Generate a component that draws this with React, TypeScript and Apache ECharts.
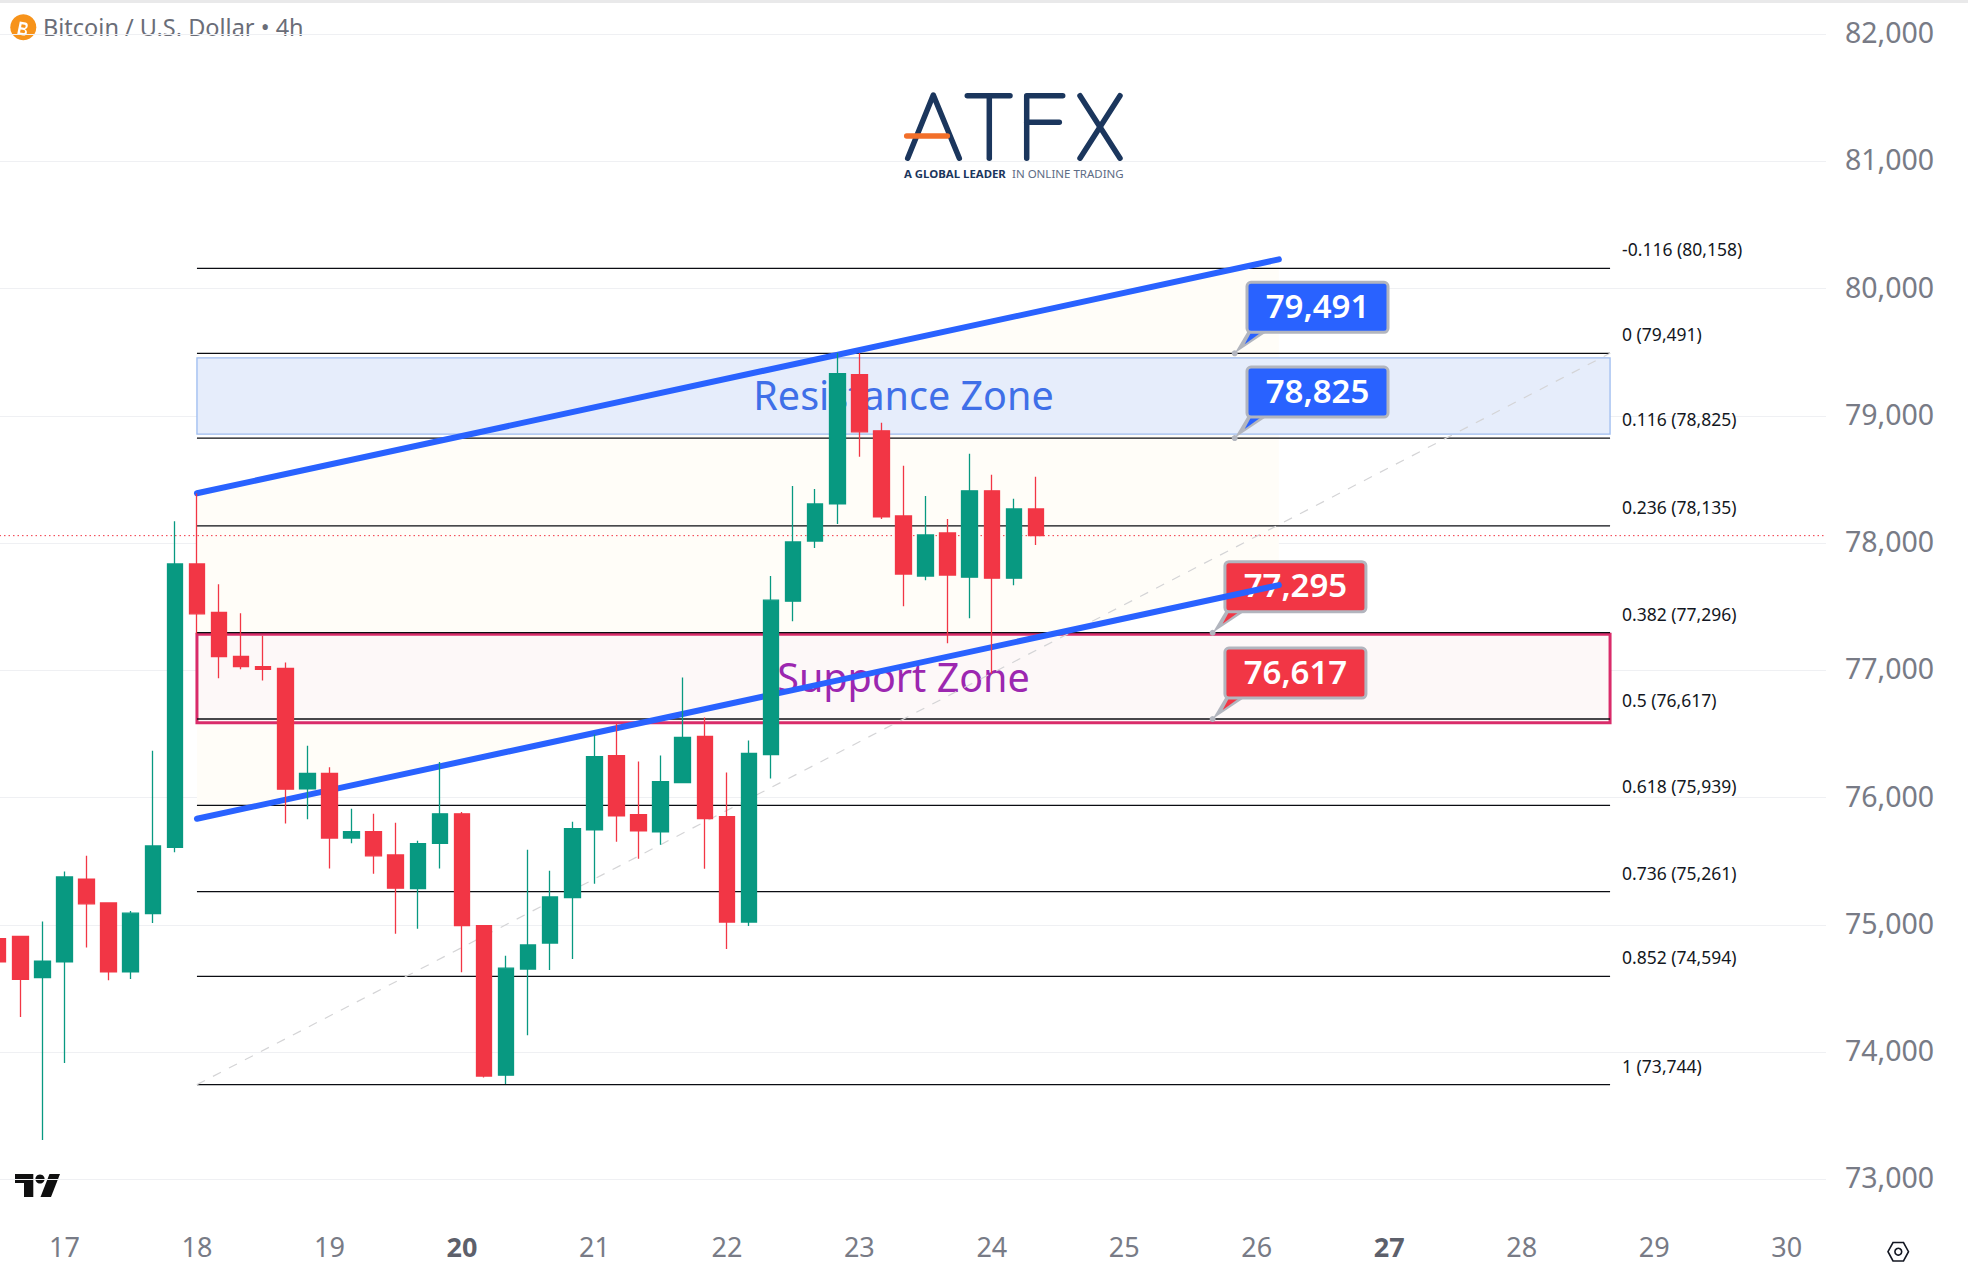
import React, { useEffect, useRef } from 'react';
import * as echarts from 'echarts';

// 4h candles, first one sits three bars before the "17" tick
const firstBar = -3;
const opens = [74891, 74909, 74585, 74708, 75359, 75172, 74631, 75088, 75608, 77835, 77455, 77110, 77029, 77015, 76069, 76189, 75682, 75732, 75549, 75285, 75640, 75872, 74993, 73818, 74652, 74857, 75214, 75747, 76330, 75865, 75731, 76117, 76480, 75849, 75022, 76338, 77543, 78016, 78307, 79323, 78882, 78213, 77740, 78079, 77732, 78410, 77724, 78268];
const closes = [74708, 74571, 74715, 75376, 75165, 74631, 75091, 75619, 77835, 77444, 77107, 77029, 77008, 76066, 76189, 75682, 75732, 75542, 75288, 75637, 75872, 74993, 73811, 74659, 74841, 75219, 75755, 76322, 75857, 75739, 76125, 76472, 75834, 75022, 76346, 77551, 78008, 78307, 79331, 78874, 78205, 77756, 78063, 77748, 78410, 77724, 78268, 78058];
const lows = [74700, 74276, 73308, 73913, 74821, 74564, 74574, 75014, 75570, 77283, 76938, 77008, 76920, 75795, 75830, 75443, 75640, 75401, 74930, 74968, 75443, 74627, 73800, 73748, 74132, 74644, 74731, 75322, 75652, 75518, 75629, 76117, 75440, 74809, 74991, 76149, 77386, 77961, 78150, 78678, 78189, 77504, 77708, 77212, 77409, 76973, 77669, 77984];
const highs = [74910, 74909, 75025, 75419, 75542, 75172, 75109, 76368, 78172, 78390, 77676, 77448, 77272, 77061, 76407, 76238, 75911, 75872, 75802, 75661, 76280, 75886, 74993, 74757, 75589, 75424, 75810, 76495, 76585, 76283, 76330, 76944, 76629, 76196, 76448, 77740, 78449, 78425, 79494, 79494, 78945, 78607, 78370, 78189, 78701, 78536, 78347, 78520];

const dayLabels = ['17', '18', '19', '20', '21', '22', '23', '24', '25', '26', '27', '28', '29', '30'];
const boldDays = ['20', '27'];

const fibLevels = ['-0.116', '0', '0.116', '0.236', '0.382', '0.5', '0.618', '0.736', '0.852', '1'];
const fibPrices = [80158, 79491, 78825, 78135, 77296, 76617, 75939, 75261, 74594, 73744];
const fibX = [6, 70];
const fibTrend = [[6, 73744], [70, 79491]];

const channelX = [6, 55];
const channelUpper = [78391, 80229];
const channelLower = [75833, 77669];

const zoneNames = ['Resistance Zone', 'Support Zone'];
const zoneTops = [79455, 77283];
const zoneBottoms = [78856, 76588];

const calloutBars = [53, 53, 52, 52];
const calloutPrices = [79491, 78825, 77295, 76617];
const lastPrice = 78058;

const FONT = '"Noto Sans", sans-serif';
const UP = '#089981';
const DOWN = '#f23645';
const BLUE = '#2962ff';
const AXIS_GREY = '#787b86';
const NAVY = '#1b365d';

const X_MIN = -6;
const X_MAX = 79.78;

echarts.graphic.registerShape(
  'btcGlyph',
  echarts.graphic.extendPath(
    'M3 1 H8 C11 1 11 6 8.5 6.5 C11.5 7 11.5 12 8 12 H3 Z M5 3 V5.6 H7.5 C9 5.6 9 3 7.5 3 Z M5 7.4 V10 H7.8 C9.5 10 9.5 7.4 7.8 7.4 Z',
    {},
  ),
);

const stroke = (points: number[][], color: string, lineWidth: number) => ({
  type: 'polyline',
  shape: { points },
  style: { stroke: color, fill: null, lineWidth, lineCap: 'round', lineJoin: 'round' },
});

const buildGraphic = () => [
  { type: 'rect', shape: { x: 0, y: 0, width: 1968, height: 3 }, style: { fill: '#e9e9ea' } },
  // symbol title
  { type: 'circle', shape: { cx: 23.3, cy: 27.3, r: 13 }, style: { fill: '#f7931a' } },
  { type: 'btcGlyph', x: 16.5, y: 19.5, scaleX: 1.2, scaleY: 1.2, rotation: -0.2, style: { fill: '#fff' } },
  {
    type: 'text',
    style: { x: 43, y: 27, text: 'Bitcoin / U.S. Dollar • 4h', fill: '#6a6d78', fontFamily: FONT, fontSize: 23.5, verticalAlign: 'middle' },
  },
  // ATFX logo
  stroke([[907.7, 158.3], [933.3, 95], [959.3, 158.3]], NAVY, 5.5),
  stroke([[967.3, 95.7], [1010, 95.7]], NAVY, 5.5),
  stroke([[989.3, 95.7], [989.3, 158.3]], NAVY, 5.5),
  stroke([[1062.7, 95.7], [1026.7, 95.7], [1026.7, 158.3]], NAVY, 5.5),
  stroke([[1026.7, 122.3], [1059.3, 122.3]], NAVY, 5.5),
  stroke([[1080, 95.7], [1120, 158.3]], NAVY, 5.5),
  stroke([[1120, 95.7], [1080, 158.3]], NAVY, 5.5),
  stroke([[906.7, 136], [947.3, 136]], '#f26f2a', 5.5),
  {
    type: 'text',
    style: { x: 904, y: 173, text: 'A GLOBAL LEADER', fill: NAVY, fontFamily: FONT, fontSize: 11.4, fontWeight: 700, verticalAlign: 'middle' },
  },
  {
    type: 'text',
    style: { x: 1012, y: 173, text: 'IN ONLINE TRADING', fill: '#5d6c85', fontFamily: FONT, fontSize: 11.5, verticalAlign: 'middle' },
  },
  // TradingView mark
  { type: 'polygon', shape: { points: [[15, 1174], [33.3, 1174], [33.3, 1197], [24, 1197], [24, 1183], [15, 1183]] }, style: { fill: '#0f0f0f' } },
  { type: 'circle', shape: { cx: 40, cy: 1179, r: 4.6 }, style: { fill: '#0f0f0f' } },
  { type: 'polygon', shape: { points: [[49.5, 1174], [60, 1174], [51, 1197], [40.5, 1197]] }, style: { fill: '#0f0f0f' } },
  // settings hexagon
  {
    type: 'polygon',
    shape: { points: [[1888, 1251.7], [1893, 1242.5], [1903.5, 1242.5], [1908.5, 1251.7], [1903.5, 1261], [1893, 1261]] },
    style: { stroke: '#131722', fill: 'none', lineWidth: 1.6 },
  },
  { type: 'circle', shape: { cx: 1898.3, cy: 1251.7, r: 3.4 }, style: { stroke: '#131722', fill: 'none', lineWidth: 1.6 } },
];

const buildOption = (): any => {
  const candles = opens.map((o, i) => [firstBar + i, o, closes[i], lows[i], highs[i]]);

  return {
    animation: false,
    backgroundColor: '#ffffff',
    graphic: buildGraphic(),
    grid: { left: -68, right: 142, top: 34, bottom: 100.7, outerBoundsMode: 'none' },
    xAxis: {
      type: 'value',
      min: X_MIN,
      max: X_MAX,
      interval: 6,
      axisLine: { show: false },
      axisTick: { show: false },
      splitLine: { show: false },
      axisLabel: {
        margin: 54,
        color: AXIS_GREY,
        fontFamily: FONT,
        fontSize: 27,
        rich: { b: { fontFamily: FONT, fontSize: 27, fontWeight: 700, color: '#5d606b' } },
        formatter: (v: number) => {
          const day = dayLabels[v / 6];
          if (!day) return '';
          return boldDays.includes(day) ? `{b|${day}}` : day;
        },
      },
    },
    yAxis: {
      type: 'value',
      position: 'right',
      min: 73000,
      max: 82000,
      interval: 1000,
      axisLine: { show: false },
      axisTick: { show: false },
      splitLine: { lineStyle: { color: '#eff0f3', width: 1 } },
      axisLabel: {
        margin: 19,
        color: AXIS_GREY,
        fontFamily: FONT,
        fontSize: 28.5,
        verticalAlign: 'bottom',
        lineHeight: 4,
        formatter: (v: number) => v.toLocaleString('en-US'),
      },
    },
    series: [
      // pale channel fill
      {
        type: 'custom',
        z: 1,
        silent: true,
        data: [[channelX[0], channelUpper[0], channelX[1], channelLower[1]]],
        renderItem: (_p: any, api: any) => ({
          type: 'polygon',
          shape: {
            points: [
              api.coord([channelX[0], channelUpper[0]]),
              api.coord([channelX[1], channelUpper[1]]),
              api.coord([channelX[1], channelLower[1]]),
              api.coord([channelX[0], channelLower[0]]),
            ],
          },
          style: { fill: '#fffdf8' },
        }),
      },
      // zones
      {
        type: 'custom',
        z: 2,
        silent: true,
        data: zoneNames.map((_n, i) => [fibX[0], fibX[1], zoneTops[i], zoneBottoms[i]]),
        encode: { x: [0, 1], y: [2, 3] },
        renderItem: (p: any, api: any) => {
          const a = api.coord([api.value(0), api.value(2)]);
          const b = api.coord([api.value(1), api.value(3)]);
          const resistance = p.dataIndex === 0;
          return {
            type: 'group',
            children: [
              {
                type: 'rect',
                shape: { x: a[0], y: a[1], width: b[0] - a[0], height: b[1] - a[1] },
                style: resistance
                  ? { fill: '#e6edfb', stroke: '#9dbcf0', lineWidth: 1.3 }
                  : { fill: '#fdf8f8', stroke: '#d92c6a', lineWidth: 3 },
              },
              {
                type: 'text',
                style: {
                  x: (a[0] + b[0]) / 2,
                  y: (a[1] + b[1]) / 2 - 1,
                  text: zoneNames[p.dataIndex],
                  fill: resistance ? '#3f6fe8' : '#9c27b0',
                  fontFamily: FONT,
                  fontSize: 39.5,
                  align: 'center',
                  verticalAlign: 'middle',
                },
              },
            ],
          };
        },
      },
      // dashed fib trend line
      {
        type: 'line',
        z: 3,
        silent: true,
        symbol: 'none',
        data: fibTrend,
        lineStyle: { color: '#d4d4d6', width: 1.2, type: [9, 9] },
      },
      // fib levels with their labels
      {
        type: 'custom',
        z: 3,
        silent: true,
        clip: false,
        data: fibPrices.map((p) => [fibX[0], p]),
        renderItem: (p: any, api: any) => {
          const a = api.coord([fibX[0], api.value(1)]);
          const b = api.coord([fibX[1], api.value(1)]);
          return {
            type: 'group',
            children: [
              { type: 'line', shape: { x1: a[0], y1: a[1], x2: b[0], y2: b[1] }, style: { stroke: '#0b0d12', lineWidth: 1.3 } },
              {
                type: 'text',
                style: {
                  x: b[0] + 12,
                  y: b[1] - 19,
                  text: `${fibLevels[p.dataIndex]} (${api.value(1).toLocaleString('en-US')})`,
                  fill: '#131722',
                  fontFamily: FONT,
                  fontSize: 17.5,
                  verticalAlign: 'middle',
                },
              },
            ],
          };
        },
      },
      // price callouts
      {
        type: 'custom',
        z: 4,
        silent: true,
        clip: false,
        data: calloutPrices.map((p, i) => [calloutBars[i], p]),
        renderItem: (_p: any, api: any) => {
          const [x, y] = api.coord([api.value(0), api.value(1)]);
          const fill = api.value(1) > lastPrice ? BLUE : DOWN;
          return {
            type: 'group',
            children: [
              { type: 'polygon', shape: { points: [[x, y], [x + 13, y - 22], [x + 33, y - 22]] }, style: { fill: '#b2b5be' } },
              { type: 'polygon', shape: { points: [[x + 10, y - 9], [x + 17, y - 22], [x + 28, y - 22]] }, style: { fill } },
              { type: 'circle', shape: { cx: x, cy: y, r: 3 }, style: { fill: '#b2b5be' } },
              {
                type: 'rect',
                shape: { x: x + 12.3, y: y - 71, width: 141, height: 50, r: 4 },
                style: { fill, stroke: '#b2b5be', lineWidth: 3 },
              },
              {
                type: 'text',
                style: {
                  x: x + 82.8,
                  y: y - 48,
                  text: api.value(1).toLocaleString('en-US'),
                  fill: '#ffffff',
                  fontFamily: FONT,
                  fontSize: 33,
                  fontWeight: 600,
                  align: 'center',
                  verticalAlign: 'middle',
                },
              },
            ],
          };
        },
      },
      // channel lines
      ...[channelUpper, channelLower].map((prices) => ({
        type: 'line',
        z: 5,
        silent: true,
        symbol: 'none',
        data: channelX.map((x, i) => [x, prices[i]]),
        lineStyle: { color: BLUE, width: 6, cap: 'round' },
      })),
      // last price
      {
        type: 'line',
        z: 6,
        silent: true,
        symbol: 'none',
        data: [[X_MIN, lastPrice], [X_MAX, lastPrice]],
        lineStyle: { color: DOWN, width: 1, type: [1.5, 3] },
      },
      {
        type: 'candlestick',
        z: 7,
        silent: true,
        barWidth: 16,
        data: candles,
        itemStyle: { color: UP, color0: DOWN, borderColor: UP, borderColor0: DOWN, borderWidth: 1.3 },
      },
    ],
  };
};

const App: React.FC = () => {
  const chartRef = useRef<HTMLDivElement>(null);

  useEffect(() => {
    if (!chartRef.current) return;
    const chart = echarts.init(chartRef.current, undefined, { renderer: 'svg' });
    chart.setOption(buildOption());
    return () => chart.dispose();
  }, []);

  return <div ref={chartRef} style={{ position: 'fixed', left: 0, top: 0, width: 1968, height: 1280, background: '#fff' }} />;
};

export default App;
